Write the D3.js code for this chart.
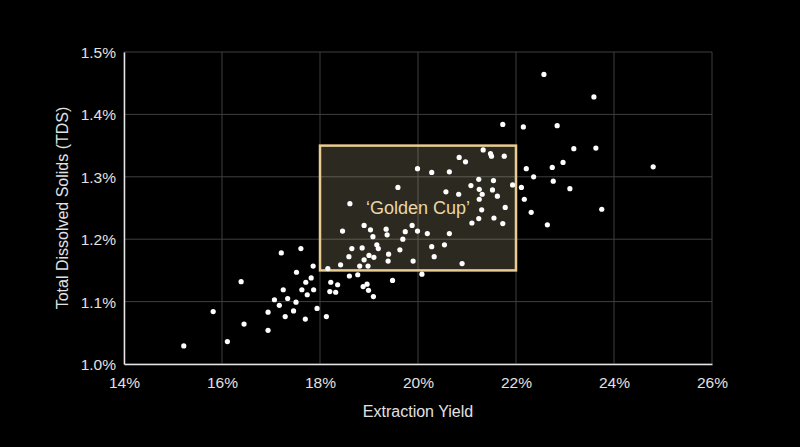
<!DOCTYPE html>
<meta charset="utf-8">
<head>
    <title>Extraction vs TDS</title>
</head>
<style>
    body { margin: 0; background: #000; }
    svg { display: block; font-family: "Liberation Sans", Arial, sans-serif; }
    .grid line { stroke: #3f3f3f; stroke-width: 1; }
    .tick text { fill: #e2e2e2; font-size: 15.5px; }
    .axis-title { fill: #e2e2e2; font-size: 16px; }
    circle { fill: #fff; }
</style>
<body>
    <svg width="800" height="447"></svg>

    <script src="https://cdnjs.cloudflare.com/ajax/libs/d3/7.8.5/d3.min.js"></script>
    <script>
        // extraction yield (%) and TDS (%), point by point
        var extraction = [15.22, 15.82, 16.11, 16.45, 16.39, 16.94, 16.94, 17.07, 17.17, 17.21,
            17.25, 17.29, 17.34, 17.46, 17.51, 17.52, 17.61, 17.63, 17.70, 17.71,
            17.74, 17.82, 17.86, 17.87, 17.94, 18.13, 18.16, 18.20, 18.22, 18.32,
            18.36, 18.42, 18.46, 18.59, 18.60, 18.61, 18.65, 18.77, 18.81, 18.86,
            18.88, 18.90, 18.90, 18.96, 18.98, 18.99, 19.00, 19.03, 19.08, 19.09,
            19.10, 19.16, 19.19, 19.35, 19.37, 19.39, 19.40, 19.48, 19.59, 19.63,
            19.69, 19.74, 19.88, 19.90, 19.99, 19.99, 20.08, 20.19, 20.28, 20.28,
            20.33, 20.54, 20.57, 20.64, 20.64, 20.83, 20.84, 20.90, 20.97, 21.08,
            21.10, 21.24, 21.24, 21.25, 21.25, 21.30, 21.31, 21.33, 21.48, 21.50,
            21.52, 21.54, 21.55, 21.62, 21.73, 21.76, 21.78, 21.73, 21.93, 22.11,
            22.15, 22.17, 22.21, 22.31, 22.36, 22.57, 22.64, 22.74, 22.76, 22.84,
            22.96, 23.10, 23.18, 23.59, 23.63, 23.75, 24.80]
        var tds = [1.029, 1.084, 1.036, 1.064, 1.132, 1.054, 1.083, 1.103, 1.094, 1.178,
            1.119, 1.076, 1.105, 1.085, 1.099, 1.147, 1.185, 1.119, 1.072, 1.131,
            1.111, 1.138, 1.157, 1.119, 1.089, 1.076, 1.153, 1.116, 1.131, 1.115,
            1.127, 1.159, 1.213, 1.172, 1.141, 1.257, 1.185, 1.143, 1.157, 1.186,
            1.124, 1.167, 1.222, 1.128, 1.157, 1.118, 1.174, 1.215, 1.204, 1.108,
            1.171, 1.191, 1.185, 1.216, 1.207, 1.165, 1.176, 1.134, 1.283, 1.183,
            1.200, 1.212, 1.222, 1.165, 1.313, 1.213, 1.144, 1.209, 1.307, 1.188,
            1.172, 1.191, 1.276, 1.308, 1.209, 1.272, 1.331, 1.161, 1.324, 1.286,
            1.226, 1.233, 1.296, 1.280, 1.264, 1.247, 1.272, 1.343, 1.337, 1.333,
            1.279, 1.294, 1.234, 1.269, 1.225, 1.333, 1.251, 1.384, 1.287, 1.283,
            1.380, 1.264, 1.313, 1.243, 1.300, 1.464, 1.223, 1.315, 1.293, 1.382,
            1.323, 1.281, 1.345, 1.428, 1.346, 1.248, 1.316]

        var xTicks = [14, 16, 18, 20, 22, 24, 26]
        var yTicks = [1.0, 1.1, 1.2, 1.3, 1.4, 1.5]

        // the "golden cup" brewing window
        var cupX = [18, 22]
        var cupY = [1.15, 1.35]

        var width = 800, height = 447
        var margin = { top: 52, right: 88, bottom: 83, left: 124 }

        var svg = d3.select('svg')
        var x = d3.scaleLinear().domain([14, 26]).range([margin.left, width - margin.right])
        var y = d3.scaleLinear().domain([1.0, 1.5]).range([height - margin.bottom, margin.top])

        // grid
        var grid = svg.append('g').attr('class', 'grid')
        grid.selectAll('.v').data(xTicks).enter().append('line')
            .attr('x1', d => x(d)).attr('x2', d => x(d))
            .attr('y1', y(1.5)).attr('y2', y(1.0))
        grid.selectAll('.h').data(yTicks).enter().append('line')
            .attr('x1', x(14)).attr('x2', x(26))
            .attr('y1', d => y(d)).attr('y2', d => y(d))

        // golden cup box
        svg.append('rect')
            .attr('x', x(cupX[0])).attr('y', y(cupY[1]))
            .attr('width', x(cupX[1]) - x(cupX[0]))
            .attr('height', y(cupY[0]) - y(cupY[1]))
            .attr('fill', '#dcd0a2').attr('fill-opacity', 0.2)
            .attr('stroke', '#e8cc92').attr('stroke-width', 2.5)

        svg.append('text')
            .attr('x', x(d3.mean(cupX)))
            .attr('y', y(1.25) + 6)
            .attr('text-anchor', 'middle')
            .attr('fill', '#ead6a8')
            .style('font-size', '18px')
            .text('\u2018Golden Cup\u2019')

        // axes
        var xAxis = svg.append('g')
            .attr('transform', 'translate(0,' + y(1.0) + ')')
            .call(d3.axisBottom(x).tickValues(xTicks).tickSize(0).tickPadding(12)
                .tickFormat(d => d + '%'))
        var yAxis = svg.append('g')
            .attr('transform', 'translate(' + x(14) + ',0)')
            .call(d3.axisLeft(y).tickValues(yTicks).tickSize(0).tickPadding(8)
                .tickFormat(d => d3.format('.1f')(d) + '%'))
        xAxis.select('.domain').attr('stroke', '#e6e6e6').attr('stroke-width', 1.5)
        yAxis.select('.domain').attr('stroke', '#e6e6e6').attr('stroke-width', 1.5)
        svg.selectAll('.tick text').attr('dy', null)
        xAxis.selectAll('.tick text').attr('y', 24)
        yAxis.selectAll('.tick text').attr('dy', '0.36em')

        // points
        svg.append('g').selectAll('circle')
            .data(extraction)
            .enter()
            .append('circle')
            .attr('r', 2.6)
            .attr('cx', d => x(d))
            .attr('cy', (d, i) => y(tds[i]))

        // titles
        svg.append('text').attr('class', 'axis-title')
            .attr('x', x(20)).attr('y', 417)
            .attr('text-anchor', 'middle')
            .text('Extraction Yield')
        svg.append('text').attr('class', 'axis-title')
            .attr('transform', 'translate(68,' + y(1.25) + ') rotate(-90)')
            .attr('text-anchor', 'middle')
            .text('Total Dissolved Solids (TDS)')
    </script>
</body>
</html>
